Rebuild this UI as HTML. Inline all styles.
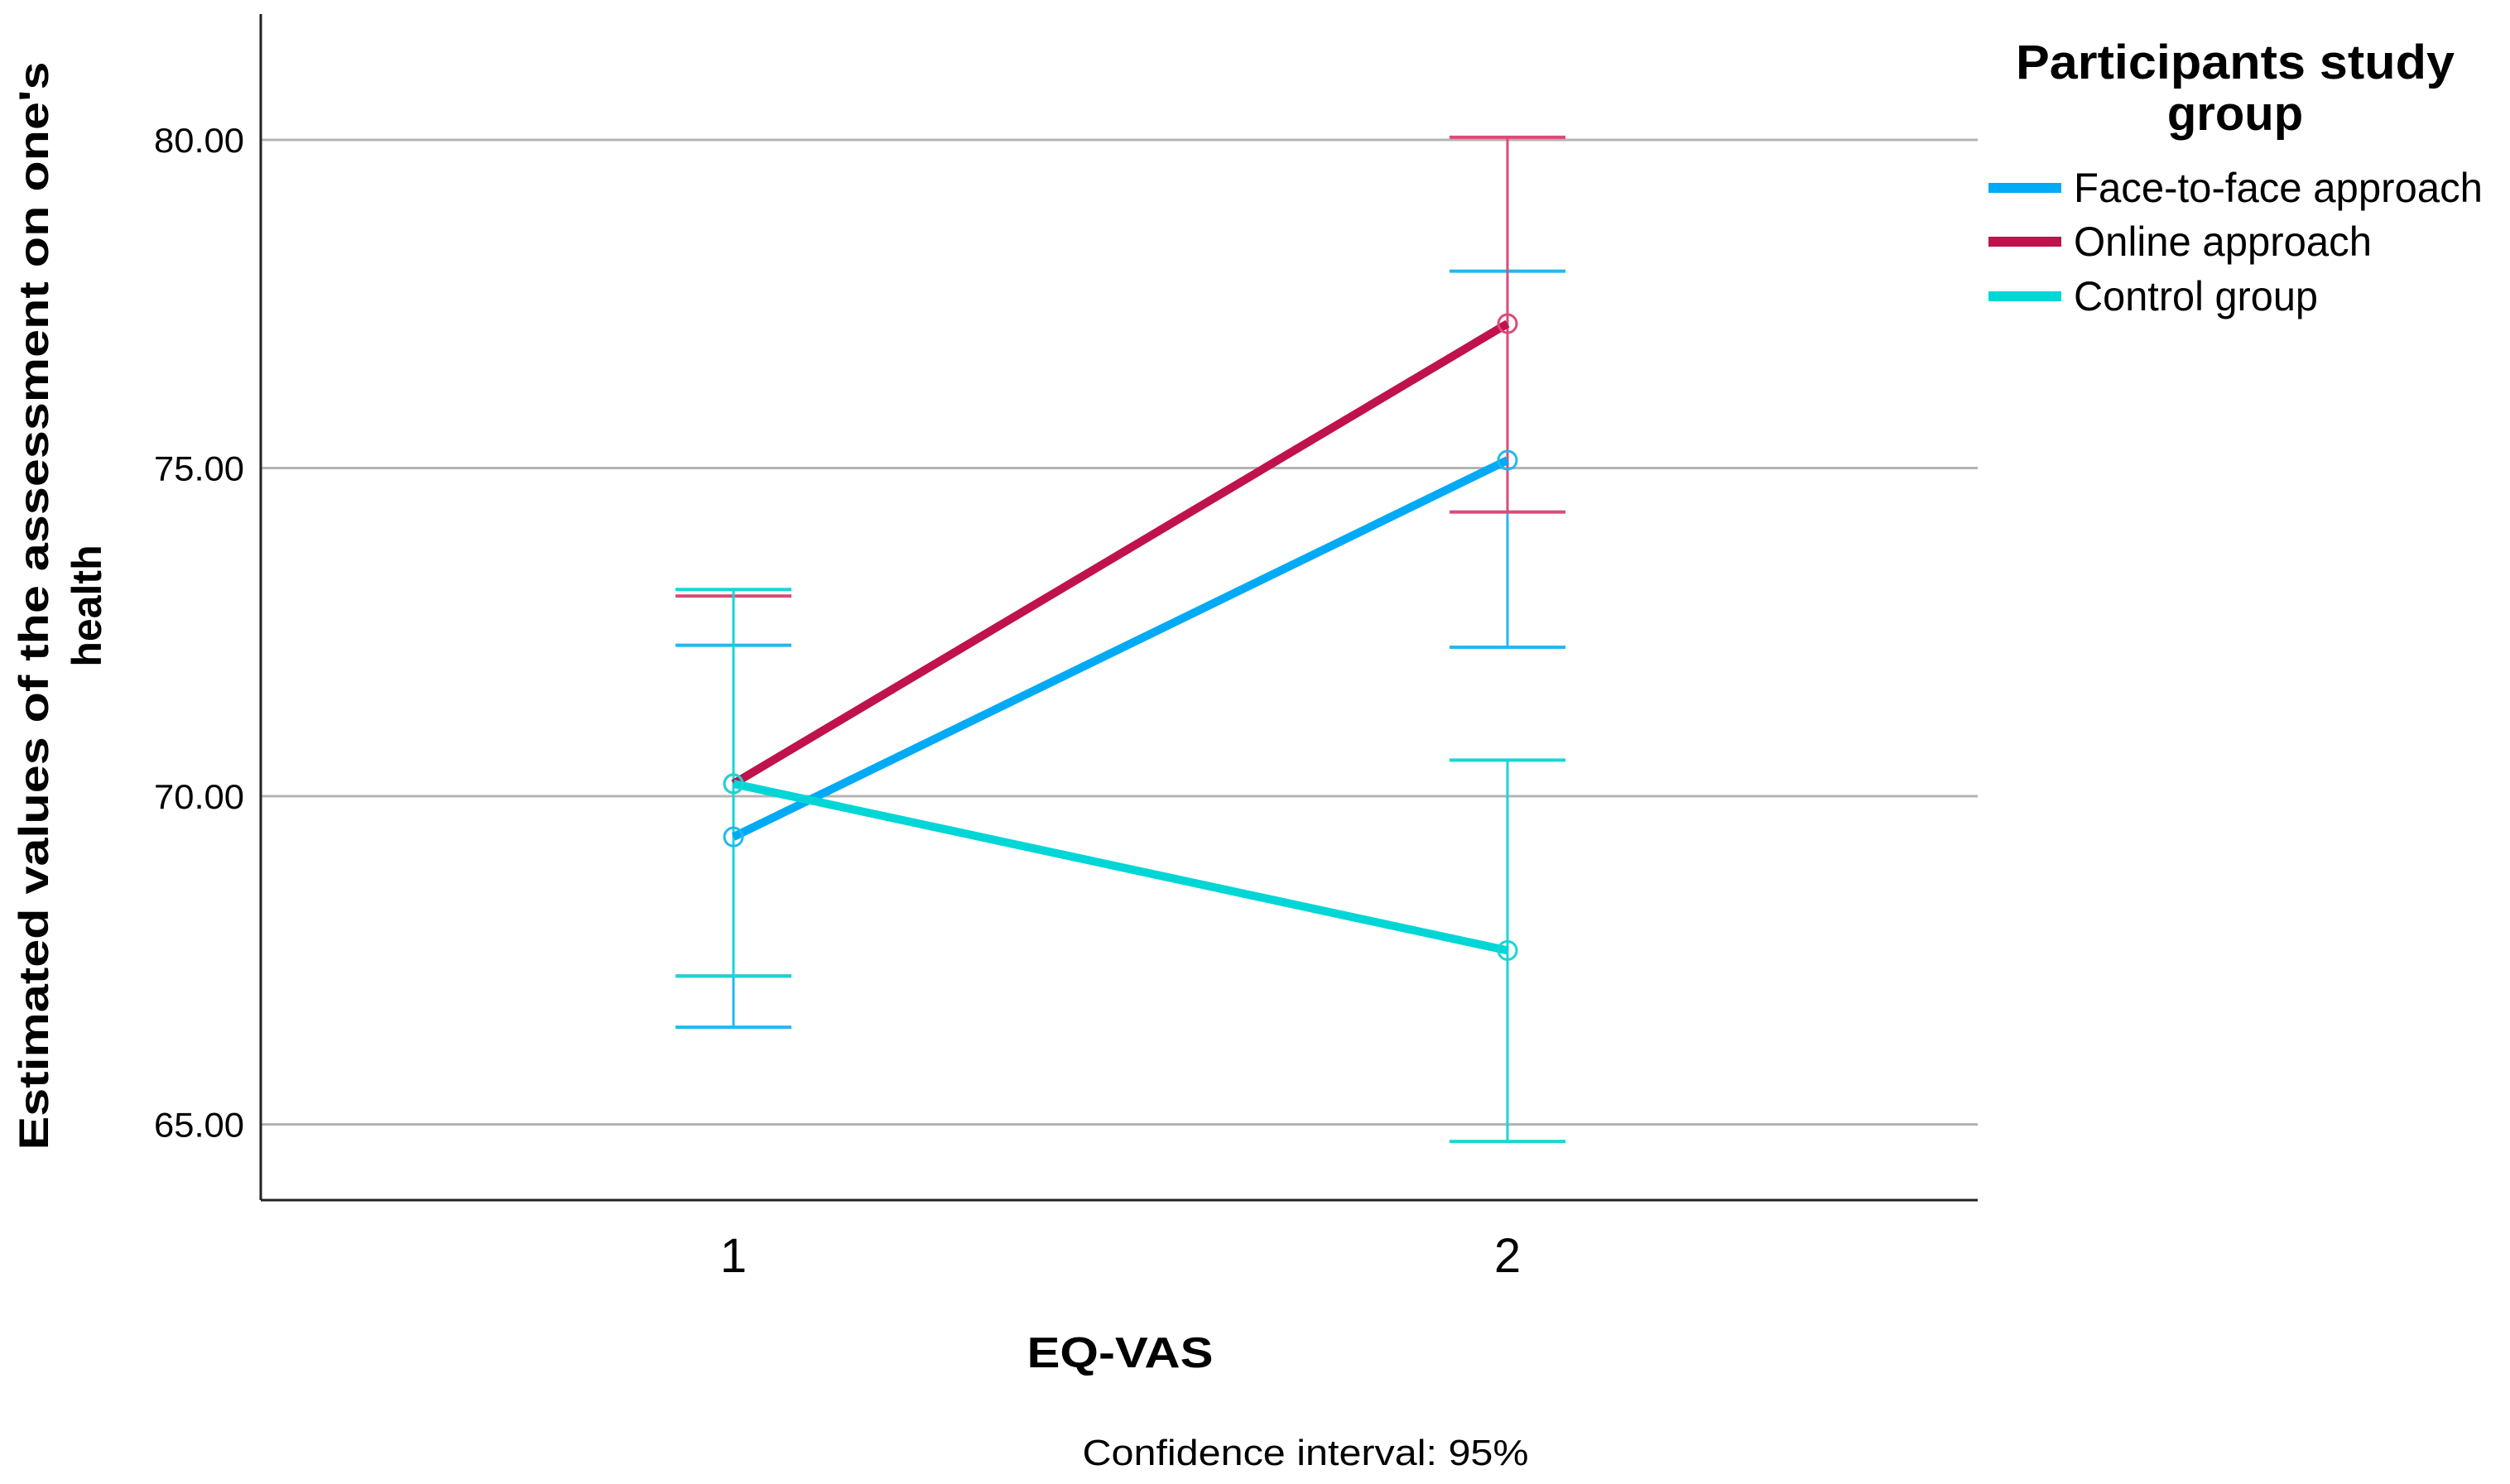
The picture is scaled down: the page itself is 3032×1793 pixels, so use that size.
<!DOCTYPE html>
<html><head><meta charset="utf-8"><style>
html,body{margin:0;padding:0;background:#fff;}
svg{display:block;font-family:"Liberation Sans",sans-serif;}
</style></head><body>
<svg id="chart" width="3032" height="1793" viewBox="0 0 3032 1793" xmlns="http://www.w3.org/2000/svg">
<rect width="3032" height="1793" fill="#fff"/>
<g id="grid"></g>
<g id="ticks"></g>
<g id="xticks"></g>
<g id="series"></g>
<line x1="315" y1="17" x2="315" y2="1450" stroke="#222" stroke-width="3"/>
<line x1="315" y1="1450" x2="2389" y2="1450" stroke="#222" stroke-width="3"/>
<text transform="translate(58,732) rotate(-90)" text-anchor="middle" font-weight="bold" font-size="50" textLength="1315" lengthAdjust="spacingAndGlyphs">Estimated values of the assessment on one's</text>
<text transform="translate(122,732) rotate(-90)" text-anchor="middle" font-weight="bold" font-size="50">health</text>
<text x="1353" y="1652" text-anchor="middle" font-weight="bold" font-size="52" textLength="225" lengthAdjust="spacingAndGlyphs">EQ-VAS</text>
<text x="1577" y="1770" text-anchor="middle" font-size="44" textLength="539" lengthAdjust="spacingAndGlyphs">Confidence interval: 95%</text>
<text x="2700" y="95" text-anchor="middle" font-weight="bold" font-size="58" textLength="530" lengthAdjust="spacingAndGlyphs">Participants study</text>
<text x="2700" y="157" text-anchor="middle" font-weight="bold" font-size="58">group</text>
<g id="legend"></g>
</svg>
<script>
const categories = ["1", "2"];
const seriesNames = ["Face-to-face approach", "Online approach", "Control group"];
const faceMeans = [69.38, 75.12];
const faceLow = [66.48, 72.27];
const faceHigh = [72.3, 78.0];
const onlineMeans = [70.19, 77.2];
const onlineLow = [67.26, 74.33];
const onlineHigh = [73.05, 80.04];
const controlMeans = [70.19, 67.65];
const controlLow = [67.26, 64.74];
const controlHigh = [73.15, 70.55];
const yTicks = [65, 70, 75, 80];
const yTickLabels = ["65.00", "70.00", "75.00", "80.00"];

const NS = "http://www.w3.org/2000/svg";
function yScale(v){ return 962 - (v - 70) * 79.3; }
function xScale(i){ return 886 + i * 935; }
function mk(tag, attrs, parent){
  const e = document.createElementNS(NS, tag);
  for (const k in attrs) e.setAttribute(k, attrs[k]);
  parent.appendChild(e);
  return e;
}
const grid = document.getElementById('grid');
const ticks = document.getElementById('ticks');
yTicks.forEach((t, i) => {
  const l = mk('line', {x1:315, x2:2389, y1:yScale(t), y2:yScale(t), stroke:'#b4b4b4', 'stroke-width':3}, grid);
  
  
  const tx = mk('text', {x:295, y:yScale(t)+15, 'text-anchor':'end', 'font-size':42, textLength:109, lengthAdjust:'spacingAndGlyphs'}, ticks);
  tx.textContent = yTickLabels[i];
  
  
});
const xt = document.getElementById('xticks');
categories.forEach((c, i) => {
  const tx = mk('text', {x:xScale(i), y:1537, 'text-anchor':'middle', 'font-size':58}, xt);
  tx.textContent = c;
  
  
});
const colors = ["#00aaf5", "#c0124c", "#00d6d6"];
const barColors = ["#22b8f0", "#d84d78", "#18d6d6"];
const means = [faceMeans, onlineMeans, controlMeans];
const lows = [faceLow, onlineLow, controlLow];
const highs = [faceHigh, onlineHigh, controlHigh];
const sg = document.getElementById('series');
means.forEach((m, s) => {
  categories.forEach((c, i) => {
    const x = xScale(i);
    const v = mk('line', {x1:x, x2:x, y1:yScale(lows[s][i]), y2:yScale(highs[s][i]), stroke:barColors[s], 'stroke-width':3}, sg);
    
    
    [lows[s][i], highs[s][i]].forEach(val => {
      const cap = mk('line', {x1:x-70, x2:x+70, y1:yScale(val), y2:yScale(val), stroke:barColors[s], 'stroke-width':4}, sg);
      
      
    });
  });
});
means.forEach((m, s) => {
  const pts = m.map((v, i) => xScale(i) + ',' + yScale(v)).join(' ');
  const pl = mk('polyline', {points:pts, fill:'none', stroke:colors[s], 'stroke-width':10}, sg);
  
  
  m.forEach((v, i) => {
    const c = mk('circle', {cx:xScale(i), cy:yScale(v), r:11, fill:'none', stroke:barColors[s], 'stroke-width':3}, sg);
    
    
  });
});
const lg = document.getElementById('legend');
const legY = [227, 292, 358];
const legLen = [494, 360, 295];
seriesNames.forEach((n, s) => {
  const sw = mk('line', {x1:2402, x2:2490, y1:legY[s], y2:legY[s], stroke:colors[s], 'stroke-width':12}, lg);
  
  
  const t = mk('text', {x:2505, y:legY[s]+17, 'font-size':50, textLength:legLen[s], lengthAdjust:'spacingAndGlyphs'}, lg);
  t.textContent = n;
  
  
});
</script>
</body></html>
